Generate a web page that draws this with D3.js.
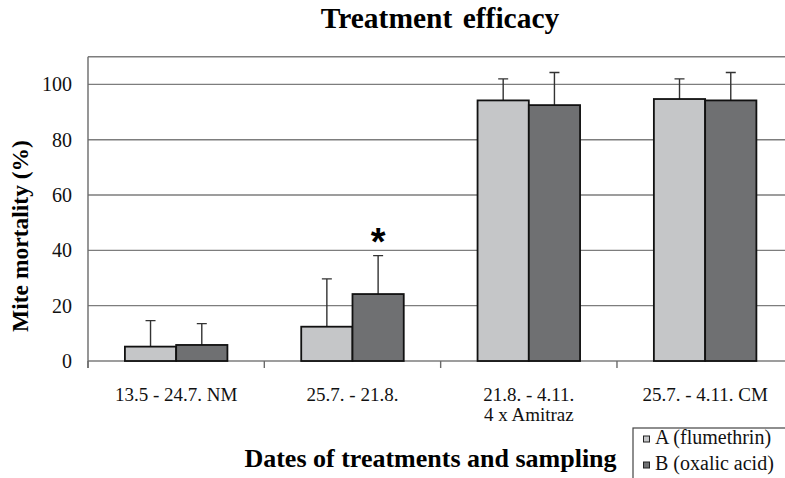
<!DOCTYPE html>
<html>
<head>
<meta charset="utf-8">
<script src="https://cdn.jsdelivr.net/npm/d3@7"></script>
<style>
  body { margin: 0; background: #fff; }
  svg { display: block; font-family: "Liberation Serif", "Times New Roman", serif; }
</style>
</head>
<body>
<svg id="chart" width="785" height="478"></svg>
<script>
// data
var categories = [["13.5 - 24.7. NM"], ["25.7. - 21.8."], ["21.8. - 4.11.", "4 x Amitraz"], ["25.7. - 4.11. CM"]];
var seriesNames = ["A (flumethrin)", "B (oxalic acid)"];
var meanA = [5.2, 12.4, 94.2, 94.7];
var sdA = [9.4, 17.3, 7.8, 7.3];
var meanB = [5.8, 24.2, 92.5, 94.2];
var sdB = [7.7, 13.9, 11.8, 10.1];
var yTicks = [0, 20, 40, 60, 80, 100];
var significant = [{ group: 1, series: 1 }];

var colors = ["#c5c6c8", "#6f7072"];
var serif = "Liberation Serif";

var svg = d3.select("#chart");
var plotL = 88, plotR = 793.3, plotT = 56.7, plotB = 361;

var keys = categories.map(function (c) { return c.join(" "); });

var x = d3.scaleBand().domain(keys).range([plotL, plotR]).padding(0);
var xs = d3.scaleBand().domain(seriesNames).range([0, x.bandwidth()])
    .paddingInner(0).paddingOuter(0.72);
var y = d3.scaleLinear().domain([0, 110]).range([plotB, plotT]);

// gridlines
svg.append("g").selectAll("line")
    .data(yTicks.concat([110]))
    .enter().append("line")
    .attr("x1", plotL).attr("x2", plotR)
    .attr("y1", function (d) { return y(d); })
    .attr("y2", function (d) { return y(d); })
    .attr("stroke", "#7d7d7d")
    .attr("stroke-width", 1.4);

// y axis
var yAxis = d3.axisLeft(y).tickValues(yTicks).tickSize(0).tickPadding(16);
var gy = svg.append("g").attr("transform", "translate(" + plotL + ",0)").call(yAxis);
gy.select(".domain").remove();
gy.attr("font-family", serif).attr("font-size", 20);
gy.selectAll("text").attr("fill", "#111");

svg.append("line")
    .attr("x1", plotL).attr("x2", plotL)
    .attr("y1", plotT).attr("y2", plotB + 7)
    .attr("stroke", "#6a6a6a").attr("stroke-width", 1.4);

// x tick marks at category boundaries
var bounds = keys.map(function (k) { return x(k); }).concat([plotR]);
svg.append("g").selectAll("line")
    .data(bounds)
    .enter().append("line")
    .attr("x1", function (d) { return d; }).attr("x2", function (d) { return d; })
    .attr("y1", plotB).attr("y2", plotB + 7)
    .attr("stroke", "#6a6a6a").attr("stroke-width", 1.4);

// bars
var rows = [];
keys.forEach(function (k, i) {
    rows.push({ key: k, s: 0, v: meanA[i], e: sdA[i] });
    rows.push({ key: k, s: 1, v: meanB[i], e: sdB[i] });
});

var bars = svg.append("g");

// error bars (upper only)
bars.selectAll(".err")
    .data(rows)
    .enter().append("path")
    .attr("class", "err")
    .attr("d", function (d) {
        var cx = x(d.key) + xs(seriesNames[d.s]) + xs.bandwidth() / 2;
        return "M" + cx + "," + y(d.v) + "V" + y(d.v + d.e) + "M" + (cx - 5) + "," + y(d.v + d.e) + "H" + (cx + 5);
    })
    .attr("fill", "none")
    .attr("stroke", "#333")
    .attr("stroke-width", 1.4);

bars.selectAll("rect")
    .data(rows)
    .enter().append("rect")
    .attr("x", function (d) { return x(d.key) + xs(seriesNames[d.s]); })
    .attr("y", function (d) { return y(d.v); })
    .attr("width", xs.bandwidth())
    .attr("height", function (d) { return plotB - y(d.v); })
    .attr("fill", function (d) { return colors[d.s]; })
    .attr("stroke", "#111")
    .attr("stroke-width", 1.8);

// significance mark
svg.selectAll(".star")
    .data(significant)
    .enter().append("text")
    .attr("class", "star")
    .attr("x", function (d) { return x(keys[d.group]) + xs(seriesNames[d.series]) + xs.bandwidth() / 2; })
    .attr("y", function (d) {
        var v = d.series === 0 ? meanA[d.group] + sdA[d.group] : meanB[d.group] + sdB[d.group];
        return y(v) - 1;
    })
    .attr("text-anchor", "middle")
    .attr("font-family", "Liberation Sans")
    .attr("font-weight", "bold")
    .attr("font-size", 38)
    .text("*");

// category labels
var lab = svg.append("g").selectAll("text")
    .data(categories)
    .enter().append("text")
    .attr("x", function (d, i) { return x(keys[i]) + x.bandwidth() / 2; })
    .attr("y", 401)
    .attr("text-anchor", "middle")
    .attr("font-family", serif)
    .attr("font-size", 19)
    .attr("fill", "#111");
lab.selectAll("tspan")
    .data(function (d) { return d; })
    .enter().append("tspan")
    .attr("x", function () { return d3.select(this.parentNode).attr("x"); })
    .attr("dy", function (d, i) { return i === 0 ? 0 : 20; })
    .text(function (d) { return d; });

// titles
svg.append("text")
    .attr("x", 440).attr("y", 28)
    .attr("text-anchor", "middle")
    .attr("font-family", serif)
    .attr("font-weight", "bold")
    .attr("font-size", 29.5)
    .attr("word-spacing", 3)
    .text("Treatment efficacy");

svg.append("text")
    .attr("x", 430.5).attr("y", 466.5)
    .attr("text-anchor", "middle")
    .attr("font-family", serif)
    .attr("font-weight", "bold")
    .attr("font-size", 26)
    .text("Dates of treatments and sampling");

svg.append("text")
    .attr("transform", "translate(28,236) rotate(-90)")
    .attr("text-anchor", "middle")
    .attr("font-family", serif)
    .attr("font-weight", "bold")
    .attr("font-size", 23.5)
    .text("Mite mortality (%)");

// legend
var lg = svg.append("g").attr("transform", "translate(633,428)");
lg.append("rect")
    .attr("x", 0).attr("y", 0)
    .attr("width", 200).attr("height", 100)
    .attr("fill", "#fff")
    .attr("stroke", "#444")
    .attr("stroke-width", 1.2);
var li = lg.selectAll(".item")
    .data(seriesNames)
    .enter().append("g")
    .attr("transform", function (d, i) { return "translate(0," + (i * 26) + ")"; });
li.append("rect")
    .attr("x", 10.5).attr("y", 8)
    .attr("width", 6).attr("height", 6)
    .attr("fill", function (d, i) { return colors[i]; })
    .attr("stroke", "#222")
    .attr("stroke-width", 1);
li.append("text")
    .attr("x", 22).attr("y", 15.5)
    .attr("font-family", serif)
    .attr("font-size", 20)
    .attr("fill", "#111")
    .text(function (d) { return d; });
</script>
</body>
</html>
